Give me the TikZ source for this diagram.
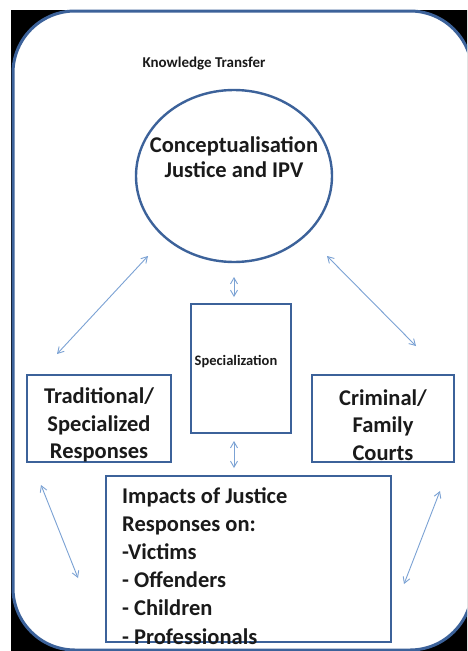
\documentclass[tikz,border=0pt]{standalone}
\usepackage{fontspec}
\setmainfont{Carlito}
\usetikzlibrary{shapes.geometric,arrows.meta}
\definecolor{frameblue}{HTML}{3C629A}
\definecolor{arrowblue}{HTML}{7BA2D4}
\definecolor{txt}{HTML}{1A1A1A}
\tikzset{
  boxnode/.style={draw=frameblue,line width=2.4pt,fill=white,inner sep=0pt},
  bigtext/.style={font=\fontsize{22.5}{27.5}\selectfont\bfseries,text=txt,align=center,inner sep=0pt},
  link/.style={draw=arrowblue,line width=0.9pt,{Straight Barb[length=6pt,width=7pt]}-{Straight Barb[length=6pt,width=7pt]}}
}
\begin{document}
\begin{tikzpicture}[x=1pt,y=-1pt]
\useasboundingbox (0,0) rectangle (467,651);
\clip (0,0) rectangle (467,651);
\fill[white] (0,0) rectangle (467,651);
\fill[black] (11,10) rectangle (470,655);
\draw[frameblue,line width=3pt,fill=white,rounded corners=62pt] (13,11) rectangle (472,650);

\node[font=\fontsize{15}{18}\selectfont\bfseries,text=txt] (kt) at (204,64) {Knowledge Transfer};

\node[boxnode,ellipse,minimum width=196pt,minimum height=172pt] (circ) at (234,176) {};
\node[bigtext,font=\fontsize{22.5}{25.3}\selectfont\bfseries] (circtext) at (234,157) {Conceptualisation\\Justice and IPV};

\node[boxnode,minimum width=100pt,minimum height=129pt] (spec) at (241,368.5) {};
\node[font=\fontsize{14.5}{17}\selectfont\bfseries,text=txt] (spectext) at (236,362) {Specialization};

\node[boxnode,minimum width=144pt,minimum height=87pt] (trad) at (99,418.5) {};
\node[bigtext] (tradtext) at (99,425) {Traditional/\\Specialized\\Responses};

\node[boxnode,minimum width=142pt,minimum height=87pt] (crim) at (383,418.5) {};
\node[bigtext] (crimtext) at (383,425) {Criminal/\\Family\\Courts};

\node[boxnode,minimum width=285pt,minimum height=166pt] (imp) at (248.5,559) {};
\node[font=\fontsize{22.5}{28.2}\selectfont\bfseries,text=txt,align=left,inner sep=0pt,anchor=north west] (imptext) at (122,487) {Impacts of Justice\\Responses on:\\-Victims\\- Offenders\\- Children\\- Professionals};

\coordinate (a1) at (148,256); \coordinate (a2) at (57,354);
\coordinate (b1) at (327,256); \coordinate (b2) at (416,346);
\coordinate (c1) at (234,277); \coordinate (c2) at (234,297);
\coordinate (d1) at (234,441); \coordinate (d2) at (234,468);
\coordinate (e1) at (41,485); \coordinate (e2) at (78,578);
\coordinate (f1) at (440,491); \coordinate (f2) at (404,584);
\draw[link] (a1) -- (a2);
\draw[link] (b1) -- (b2);
\draw[link] (c1) -- (c2);
\draw[link] (d1) -- (d2);
\draw[link] (e1) -- (e2);
\draw[link] (f1) -- (f2);
\end{tikzpicture}
\end{document}
